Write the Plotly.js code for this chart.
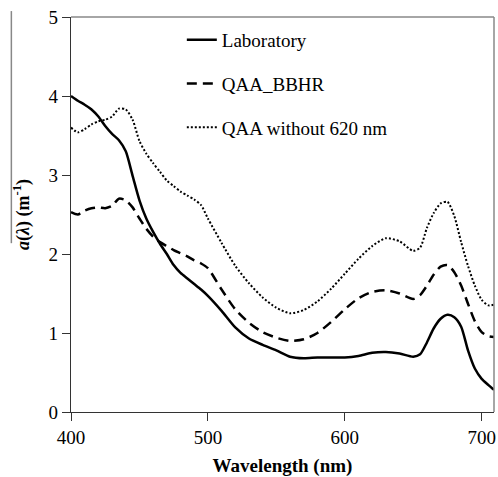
<!DOCTYPE html>
<html>
<head>
<meta charset="utf-8">
<script src="https://cdn.plot.ly/plotly-3.0.1.min.js"></script>
<style>
html,body{margin:0;padding:0;background:#fff;}
#chart{width:498px;height:477px;}
</style>
</head>
<body>
<div id="chart"></div>
<script>
const wavelength = [400,405,410,415,420,425,430,435,440,445,450,455,460,465,470,475,480,485,490,495,500,510,520,530,540,550,560,570,580,590,600,610,620,630,640,650,655,660,665,670,675,680,685,690,695,700,705,709];
const laboratory = [4.00,3.94,3.89,3.83,3.74,3.62,3.52,3.44,3.30,2.99,2.68,2.45,2.28,2.13,2.00,1.86,1.76,1.69,1.62,1.55,1.47,1.28,1.07,0.93,0.85,0.78,0.70,0.68,0.69,0.69,0.69,0.71,0.75,0.76,0.74,0.70,0.73,0.88,1.06,1.18,1.23,1.20,1.08,0.78,0.55,0.42,0.34,0.28];
const qaaBBHR = [2.53,2.50,2.55,2.58,2.59,2.58,2.61,2.70,2.68,2.59,2.45,2.32,2.22,2.15,2.10,2.05,2.01,1.97,1.92,1.88,1.82,1.55,1.30,1.13,1.01,0.94,0.90,0.92,1.00,1.14,1.30,1.44,1.52,1.54,1.50,1.43,1.48,1.60,1.74,1.84,1.86,1.77,1.60,1.37,1.15,1.01,0.96,0.95];
const qaaNo620 = [3.60,3.54,3.58,3.64,3.68,3.70,3.74,3.84,3.83,3.70,3.43,3.27,3.15,3.04,2.93,2.86,2.79,2.74,2.69,2.62,2.45,2.14,1.85,1.63,1.45,1.32,1.25,1.29,1.40,1.56,1.75,1.94,2.10,2.20,2.16,2.04,2.08,2.33,2.52,2.64,2.66,2.48,2.15,1.85,1.60,1.42,1.35,1.36];
const seriesNames = ['Laboratory','QAA_BBHR','QAA without 620 nm'];
const xTicks = [400,500,600,700];
const yTicks = [0,1,2,3,4,5];

const traces = [
  {x: wavelength, y: laboratory, name: seriesNames[0], legendgroup:'a', mode:'lines', line:{color:'#000', width:2.5, shape:'spline', smoothing:0.7}},
  {x: wavelength, y: qaaBBHR, name: seriesNames[1], legendgroup:'b', mode:'lines', line:{color:'#000', width:2.5, dash:'10px,6px', shape:'spline', smoothing:0.7}},
  {x: wavelength, y: qaaNo620, name: seriesNames[2], legendgroup:'c', mode:'lines', line:{color:'#000', width:2, dash:'2px,2px', shape:'spline', smoothing:0.7}}
];
const layout = {
  width: 498, height: 477,
  margin: {l: 71, r: 4, t: 17, b: 65},
  font: {family: 'Liberation Serif', size: 19},
  showlegend: true,
  legend: {x: 0.262, y: 0.99, xanchor: 'left', yanchor: 'top', bgcolor: 'rgba(0,0,0,0)', borderwidth: 0, font: {family: 'serif', size: 19, color: '#000'}, tracegroupgap: 16, traceorder: 'grouped'},
  xaxis: {range: [400, 709], tickvals: xTicks, ticktext: xTicks.map(String), ticks: 'outside', ticklen: 8, tickcolor: '#333', showline: true, linecolor: '#333', linewidth: 1.2, showgrid: false, zeroline: false,
    tickfont: {family: 'Times New Roman', size: 19, color: '#000'},
    title: {text: '<b>Wavelength (nm)</b>', font: {family: 'Liberation Serif', size: 19, color: '#000'}, standoff: 12}},
  yaxis: {range: [0, 5], tickvals: yTicks, ticktext: yTicks.map(String), ticks: 'outside', ticklen: 8, tickcolor: '#333', showline: true, linecolor: '#333', linewidth: 1.2, showgrid: false, zeroline: false,
    tickfont: {family: 'Liberation Serif', size: 19, color: '#000'},
    title: {text: '<b><i>a</i>(<i>λ</i>) (m<sup>-1</sup>)</b>', font: {family: 'Liberation Serif', size: 18, color: '#000'}, standoff: 14}},
  shapes: [
    {type:'line', xref:'paper', yref:'paper', x0:0, x1:1, y0:1, y1:1, line:{color:'#888', width:1.5}},
    {type:'line', xref:'paper', yref:'paper', x0:1, x1:1, y0:0, y1:1, line:{color:'#888', width:1.5}},
    {type:'line', xref:'paper', yref:'paper', x0:-0.141, x1:-0.141, y0:0.4274, y1:1.015, line:{color:'#888', width:1.5}}
  ]
};
Plotly.newPlot('chart', traces, layout, {displayModeBar: false}).then(function (gd) {
  gd.querySelectorAll('svg text').forEach(function (el) {
    el.style.setProperty('font-family', "'Liberation Serif', 'Times New Roman', serif", 'important');
  });
});
</script>
</body>
</html>
